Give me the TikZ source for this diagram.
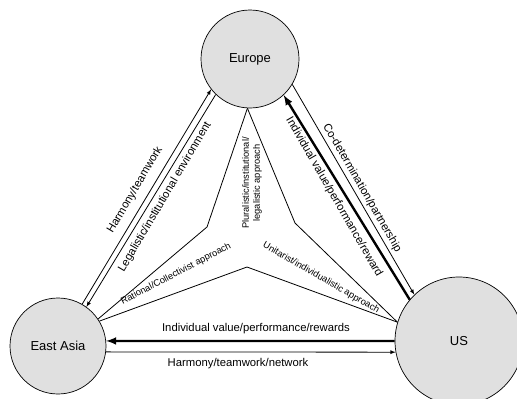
\documentclass[tikz,border=0pt]{standalone}
\usepackage{fontspec}
\setmainfont{Liberation Sans}
\usetikzlibrary{arrows,positioning}

\begin{document}
\begin{tikzpicture}[x=1pt, y=-1pt, font=\fontsize{11.3}{13}\selectfont,
    region/.style={circle, draw, line width=0.7pt, fill=black!12, font=\fontsize{13}{15}\selectfont},
    flow/.style={line width=0.8pt},
    bigflow/.style={line width=2.4pt},
    small/.style={font=\fontsize{9.3}{11}\selectfont, inner sep=1pt}]
      \useasboundingbox (0,0) rectangle (517,399);

      \node[region, minimum size=98pt] (Europe) at (250,59) {Europe};
      \node[region, minimum size=96pt] (EastAsia) at (58,346) {East Asia};
      \node[region, minimum size=128pt] (US) at (459,341) {US};

      % the three approaches
      \coordinate (KEuEa) at (207,227);
      \coordinate (KEuUS) at (295,223);
      \coordinate (KEaUS) at (247,267);
      \draw[flow] (Europe.267) -- (KEuEa) -- (EastAsia.34);
      \draw[flow] (Europe.267) -- (KEuUS) -- (US.163);
      \draw[flow] (EastAsia.31) -- (KEaUS) -- (US.163);

      \node[small, rotate=90, align=center] (Plur) at (252,183) {Pluralistic/institutional/\\legalistic approach};
      \node[small, rotate=27.6] (Rat) at (176,274) {Rational/Collectivist approach};
      \node[small, rotate=-30] (Unit) at (321,278) {Unitarist/individualistic approach};

      % Europe -- East Asia
      \draw[flow, -latex] (EastAsia.60) -- (Europe.218);
      \draw[flow, -latex] (Europe.226) -- (EastAsia.54);
      \node[rotate=59.5] (HarmEu) at (135,190) {Harmony/teamwork};
      \node[rotate=59.5] (LegEa) at (165,197) {Legalistic/institutional environment};

      % Europe -- US
      \draw[flow, -latex] (Europe.-31) -- (US.134);
      \draw[bigflow, -latex] (US.140) -- (Europe.-47);
      \node[rotate=-60] (CoDet) at (362,188) {Co-determination/partnership};
      \node[rotate=-60] (IndEu) at (334,197) {Individual value/performance/reward};

      % US -- East Asia
      \draw[bigflow, -latex] (US.180) -- (EastAsia.6);
      \draw[flow, -latex] (EastAsia.-7) -- (US.190);
      \node (IndEa) at (256,329) {Individual value/performance/rewards};
      \node (HarmUS) at (238,364) {Harmony/teamwork/network};

    \end{tikzpicture}
\end{document}
